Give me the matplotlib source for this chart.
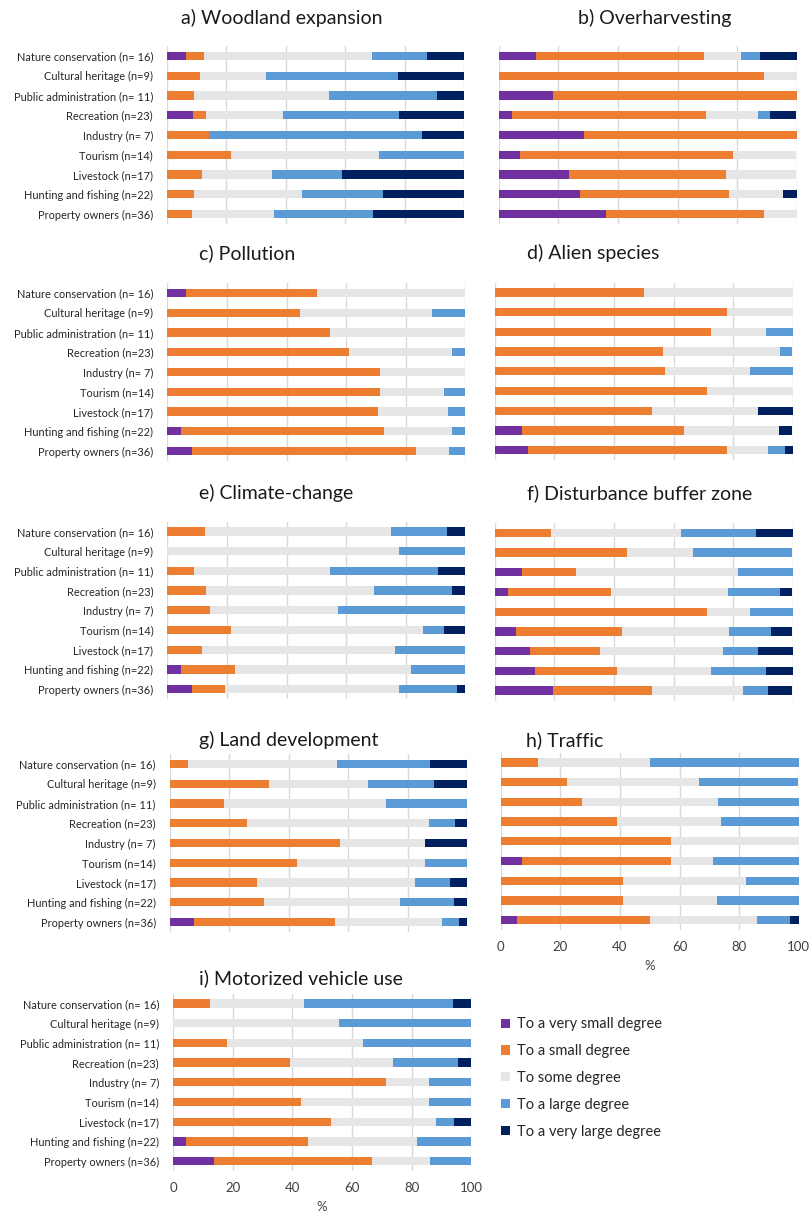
import matplotlib
matplotlib.use("Agg")
import matplotlib.pyplot as plt
from matplotlib.patches import Patch
import numpy as np

plt.rcParams['font.family'] = ['Lato', 'DejaVu Sans']

categories = ["Nature conservation (n= 16)", "Cultural heritage (n=9)",
              "Public administration (n= 11)", "Recreation (n=23)",
              "Industry (n= 7)", "Tourism (n=14)", "Livestock (n=17)",
              "Hunting and fishing (n=22)", "Property owners (n=36)"]

degrees = ["To a very small degree", "To a small degree", "To some degree",
           "To a large degree", "To a very large degree"]
colors = ["#7030A0", "#ED7D31", "#E7E6E6", "#5B9BD5", "#002060"]

# each row: [very small, small, some, large, very large] in %
woodland = [[6.3, 6.3, 56.3, 18.8, 12.5],
            [0, 11.1, 22.2, 44.4, 22.2],
            [0, 9.1, 45.5, 36.4, 9.1],
            [8.7, 4.3, 26.1, 39.1, 21.7],
            [0, 14.3, 0, 71.4, 14.3],
            [0, 21.4, 50.0, 28.6, 0],
            [0, 11.8, 23.5, 23.5, 41.2],
            [0, 9.1, 36.4, 27.3, 27.3],
            [0, 8.3, 27.8, 33.3, 30.6]]

overharvesting = [[12.5, 56.3, 12.5, 6.3, 12.5],
                  [0, 88.9, 11.1, 0, 0],
                  [18.2, 81.8, 0, 0, 0],
                  [4.3, 65.2, 17.4, 4.3, 8.7],
                  [28.6, 71.4, 0, 0, 0],
                  [7.1, 71.4, 21.4, 0, 0],
                  [23.5, 52.9, 23.5, 0, 0],
                  [27.3, 50.0, 18.2, 0, 4.5],
                  [36.1, 52.8, 11.1, 0, 0]]

pollution = [[6.3, 43.8, 50.0, 0, 0],
             [0, 44.4, 44.4, 11.1, 0],
             [0, 54.5, 45.5, 0, 0],
             [0, 60.9, 34.8, 4.3, 0],
             [0, 71.4, 28.6, 0, 0],
             [0, 71.4, 21.4, 7.1, 0],
             [0, 70.6, 23.5, 5.9, 0],
             [4.5, 68.2, 22.7, 4.5, 0],
             [8.3, 75.0, 11.1, 5.6, 0]]

alien = [[0, 50.0, 50.0, 0, 0],
         [0, 77.8, 22.2, 0, 0],
         [0, 72.7, 18.2, 9.1, 0],
         [0, 56.5, 39.1, 4.3, 0],
         [0, 57.1, 28.6, 14.3, 0],
         [0, 71.4, 28.6, 0, 0],
         [0, 52.9, 35.3, 0, 11.8],
         [9.1, 54.5, 31.8, 0, 4.5],
         [11.1, 66.7, 13.9, 5.6, 2.8]]

climate = [[0, 12.5, 62.5, 18.8, 6.3],
           [0, 0, 77.8, 22.2, 0],
           [0, 9.1, 45.5, 36.4, 9.1],
           [0, 13.0, 56.5, 26.1, 4.3],
           [0, 14.3, 42.9, 42.9, 0],
           [0, 21.4, 64.3, 7.1, 7.1],
           [0, 11.8, 64.7, 23.5, 0],
           [4.5, 18.2, 59.1, 18.2, 0],
           [8.3, 11.1, 58.3, 19.4, 2.8]]

disturbance = [[0, 18.8, 43.8, 25.0, 12.5],
               [0, 44.4, 22.2, 33.3, 0],
               [9.1, 18.2, 54.5, 18.2, 0],
               [4.3, 34.8, 39.1, 17.4, 4.3],
               [0, 71.4, 14.3, 14.3, 0],
               [7.1, 35.7, 35.7, 14.3, 7.1],
               [11.8, 23.5, 41.2, 11.8, 11.8],
               [13.6, 27.3, 31.8, 18.2, 9.1],
               [19.4, 33.3, 30.6, 8.3, 8.3]]

land = [[0, 6.3, 50.0, 31.3, 12.5],
        [0, 33.3, 33.3, 22.2, 11.1],
        [0, 18.2, 54.5, 27.3, 0],
        [0, 26.1, 60.9, 8.7, 4.3],
        [0, 57.1, 28.6, 0, 14.3],
        [0, 42.9, 42.9, 14.3, 0],
        [0, 29.4, 52.9, 11.8, 5.9],
        [0, 31.8, 45.5, 18.2, 4.5],
        [8.3, 47.2, 36.1, 5.6, 2.8]]

traffic = [[0, 12.5, 37.5, 50.0, 0],
           [0, 22.2, 44.4, 33.3, 0],
           [0, 27.3, 45.5, 27.3, 0],
           [0, 39.1, 34.8, 26.1, 0],
           [0, 57.1, 42.9, 0, 0],
           [7.1, 50.0, 14.3, 28.6, 0],
           [0, 41.2, 41.2, 17.6, 0],
           [0, 40.9, 31.8, 27.3, 0],
           [5.6, 44.4, 36.1, 11.1, 2.8]]

motorized = [[0, 12.5, 31.3, 50.0, 6.3],
             [0, 0, 55.6, 44.4, 0],
             [0, 18.2, 45.5, 36.4, 0],
             [0, 39.1, 34.8, 21.7, 4.3],
             [0, 71.4, 14.3, 14.3, 0],
             [0, 42.9, 42.9, 14.3, 0],
             [0, 52.9, 35.3, 5.9, 5.9],
             [4.5, 40.9, 36.4, 18.2, 0],
             [13.9, 52.8, 19.4, 13.9, 0]]

titles = ["a) Woodland expansion", "b) Overharvesting", "c) Pollution",
          "d) Alien species", "e) Climate-change", "f) Disturbance buffer zone",
          "g) Land development", "h) Traffic", "i) Motorized vehicle use"]
panels = [woodland, overharvesting, pollution, alien, climate, disturbance,
          land, traffic, motorized]
xticks = [0, 20, 40, 60, 80, 100]

W, H = 809, 1211
fig = plt.figure(figsize=(W / 100, H / 100), dpi=100)

# layout in pixels: (x0, x1, ytop, ybottom)
boxes = [(167, 464, 46, 224), (498.7, 796.7, 46, 224),
         (167.3, 465.3, 283, 461), (494.7, 792.7, 282.5, 460),
         (167.3, 465.3, 521.5, 699), (494.7, 792.7, 523, 700.5),
         (169.7, 467.3, 754, 932), (500.7, 798.7, 752.5, 930),
         (173, 471.3, 993.5, 1171)]
title_pos = [(181, 18), (578, 18), (199, 253), (527, 253), (199, 493),
             (527, 493), (199, 740), (526, 740), (199, 978)]

for k, (data, box) in enumerate(zip(panels, boxes)):
    x0, x1, yt, yb = box
    ax = fig.add_axes([x0 / W, 1 - yb / H, (x1 - x0) / W, (yb - yt) / H])
    arr = np.array(data, dtype=float)
    left = np.zeros(len(categories))
    ypos = np.arange(len(categories))
    for j in range(5):
        ax.barh(ypos, arr[:, j], left=left, height=0.42, color=colors[j],
                zorder=3, linewidth=0)
        left += arr[:, j]
    ax.set_xlim(0, 100)
    ax.set_ylim(len(categories) - 0.5, -0.5)
    ax.set_xticks(xticks)
    ax.grid(axis='x', color='#D9D9D9', linewidth=1.0, zorder=0)
    for s in ax.spines.values():
        s.set_visible(False)
    ax.tick_params(length=0)
    if k % 2 == 0:
        ax.set_yticks(ypos)
        ax.set_yticklabels(categories, fontsize=7.9, color='#262626')
        ax.tick_params(axis='y', pad=10)
    else:
        ax.set_yticks([])
    if k in (7, 8):
        ax.set_xticklabels([str(v) for v in xticks], fontsize=9.5, color='#404040')
        ax.tick_params(axis='x', pad=8)
        ax.set_xlabel('%', fontsize=9.5, color='#404040', labelpad=5)
    else:
        ax.tick_params(axis='x', labelbottom=False)
    tx, ty = title_pos[k]
    fig.text(tx / W, 1 - ty / H, titles[k], fontsize=14, color='#1a1a1a',
             ha='left', va='center')

handles = [Patch(facecolor=c, edgecolor='none') for c in colors]
fig.legend(handles, degrees, loc='upper left',
           bbox_to_anchor=(494 / W, 1 - 1010 / H), frameon=False,
           borderpad=0, fontsize=10.5, handlelength=0.6, handleheight=0.6,
           handletextpad=0.45, labelspacing=0.88, labelcolor='#262626')

fig.savefig("out.png", dpi=100)
